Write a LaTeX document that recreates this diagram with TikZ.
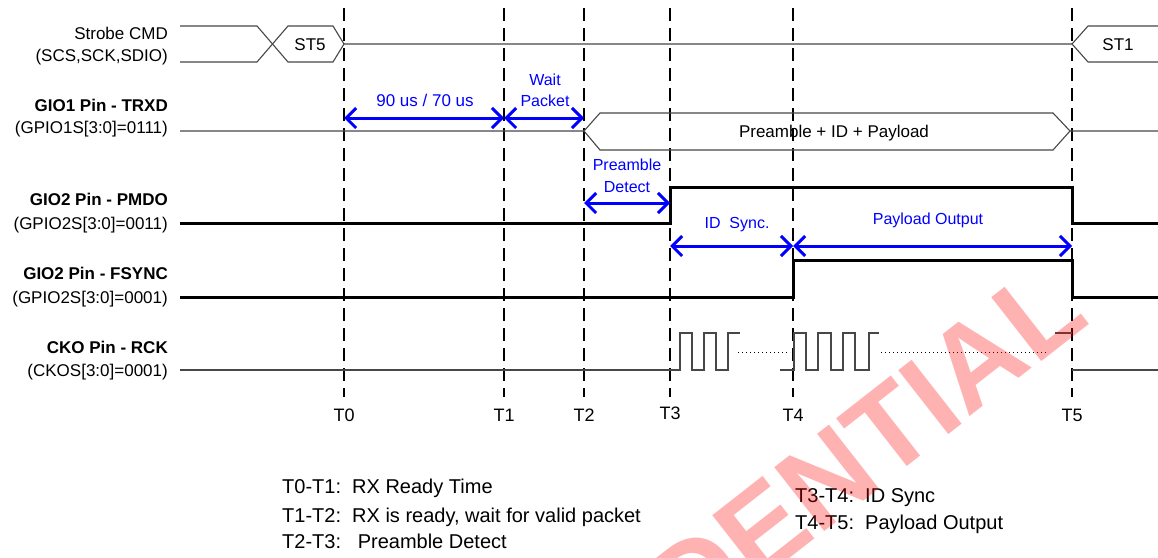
\documentclass[tikz,border=0pt]{standalone}
\usepackage{fontspec}
\setmainfont{Liberation Sans}
\usetikzlibrary{arrows.meta}
\begin{document}
\begin{tikzpicture}[x=1pt,y=-1pt,
  sig/.style={line width=1.1pt, black!72},
  thicksig/.style={line width=3pt, black},
  dotline/.style={line width=1pt, black, dash pattern=on 1.2pt off 2.8pt},
  tmark/.style={line width=2.4pt, black, dash pattern=on 13pt off 7pt},
  dim/.style={blue, line width=3pt, {Straight Barb[length=10pt,width=20pt]}-{Straight Barb[length=10pt,width=20pt]}},
  lab/.style={inner sep=0pt, anchor=base east, font=\fontsize{17}{20}\selectfont},
  blab/.style={lab, font=\fontsize{17}{20}\selectfont\bfseries},
  dimlab/.style={inner sep=0pt, anchor=base, blue, font=\fontsize{16}{19}\selectfont},
  tlab/.style={inner sep=0pt, anchor=base, font=\fontsize{18}{20}\selectfont},
  note/.style={inner sep=0pt, anchor=base west, font=\fontsize{20}{24}\selectfont},
  wmark/.style={inner sep=0pt, anchor=base east, red, opacity=0.3, rotate=38, font=\fontsize{118}{118}\selectfont\bfseries},
]
\useasboundingbox (0,0) rectangle (1158,557);

% time markers
\foreach \n/\x/\ly in {0/344/421,1/504/421,2/584/421,3/670/419,4/793/421,5/1072/421}{
  \coordinate (T\n top) at (\x,8);
  \coordinate (T\n bot) at (\x,397);
  \draw[tmark] (T\n top) -- (T\n bot);
  \node[tlab] (Tl\n) at (\x,\ly) {T\n};
}

% Strobe CMD
\draw[sig] (180,26) -- (257,26) -- (288,62) -- (333,62) -- (344,44) -- (1072,44) -- (1088,26) -- (1158,26);
\draw[sig] (180,62) -- (257,62) -- (288,26) -- (333,26) -- (344,44);
\draw[sig] (1072,44) -- (1088,62) -- (1158,62);
\node[inner sep=0pt, anchor=base, font=\fontsize{17}{20}\selectfont] (st5) at (310,50) {ST5};
\node[inner sep=0pt, anchor=base, font=\fontsize{17}{20}\selectfont] (st1) at (1118,50) {ST1};

% GIO1 TRXD
\draw[sig] (180,131) -- (584,131) -- (600,113) -- (1053,113) -- (1070,131) -- (1158,131);
\draw[sig] (584,131) -- (600,150) -- (1053,150) -- (1070,131);
\node[inner sep=0pt, anchor=base, font=\fontsize{17}{20}\selectfont] (pl) at (834,137) {Preamble + ID + Payload};

% GIO2 PMDO
\draw[thicksig] (180,223) -- (670,223) -- (670,187) -- (1072,187) -- (1072,223) -- (1158,223);
% GIO2 FSYNC
\draw[thicksig] (180,297) -- (793,297) -- (793,260) -- (1072,260) -- (1072,297) -- (1158,297);
% CKO RCK
\draw[sig] (180,370) -- (680,370) -- (680,333) -- (692,333) -- (692,370) -- (704,370) -- (704,333) -- (716,333) -- (716,370) -- (728,370) -- (728,333) -- (740,333);
\draw[dotline] (738,352) -- (790,352);
\draw[sig] (780,370) -- (794,370) -- (794,333) -- (806,333) -- (806,370) -- (818,370) -- (818,333) -- (831,333) -- (831,370) -- (843,370) -- (843,333) -- (855,333) -- (855,370) -- (869,370) -- (869,333) -- (879,333);
\draw[dotline] (881,352) -- (1048,352);
\draw[sig] (1055,333) -- (1072,333);
\draw[sig] (1072,370) -- (1158,370);

% signal labels
\node[lab]  (l1a) at (168,39.5) {Strobe CMD};
\node[lab]  (l1b) at (168,61.5) {(SCS,SCK,SDIO)};
\node[blab] (l2a) at (168,111.7) {GIO1 Pin - TRXD};
\node[lab]  (l2b) at (168,133.5) {(GPIO1S[3:0]=0111)};
\node[blab] (l3a) at (168,205.7) {GIO2 Pin - PMDO};
\node[lab]  (l3b) at (168,229) {(GPIO2S[3:0]=0011)};
\node[blab] (l4a) at (168,279) {GIO2 Pin - FSYNC};
\node[lab]  (l4b) at (168,303) {(GPIO2S[3:0]=0001)};
\node[blab] (l5a) at (168,353) {CKO Pin - RCK};
\node[lab]  (l5b) at (168,376.5) {(CKOS[3:0]=0001)};

% dimension arrows
\coordinate (a0) at (344,118);
\coordinate (a1) at (504,118);
\coordinate (a2) at (584,118);
\coordinate (p0) at (584,203);
\coordinate (p1) at (670,203);
\coordinate (s0) at (670,246);
\coordinate (s1) at (793,246);
\coordinate (s2) at (1072,246);
\draw[dim] (a0) -- (a1);
\draw[dim] (a1) -- (a2);
\draw[dim] (p0) -- (p1);
\draw[dim] (s0) -- (s1);
\draw[dim] (s1) -- (s2);
\node[dimlab, font=\fontsize{17}{20}\selectfont] (d1) at (425,106.5) {90 us / 70 us};
\node[dimlab] (d2a) at (545,85) {Wait};
\node[dimlab] (d2b) at (545,106) {Packet};
\node[dimlab] (d3a) at (627,170) {Preamble};
\node[dimlab] (d3b) at (627,192) {Detect};
\node[dimlab] (d4) at (737,228) {ID\ \ Sync.};
\node[dimlab] (d5) at (928,224) {Payload Output};

% notes
\node[note] (n1) at (282,493) {T0-T1:\ \ RX Ready Time};
\node[note] (n2) at (282,522) {T1-T2:\ \ RX is ready, wait for valid packet};
\node[note] (n3) at (282,548) {T2-T3:\ \ \ Preamble Detect};
\node[note] (n4) at (795,502) {T3-T4:\ \ ID Sync};
\node[note] (n5) at (795,529) {T4-T5:\ \ Payload Output};

% watermark
\node[wmark] (wm) at (1092,322) {CONFIDENTIAL};
\end{tikzpicture}
\end{document}
